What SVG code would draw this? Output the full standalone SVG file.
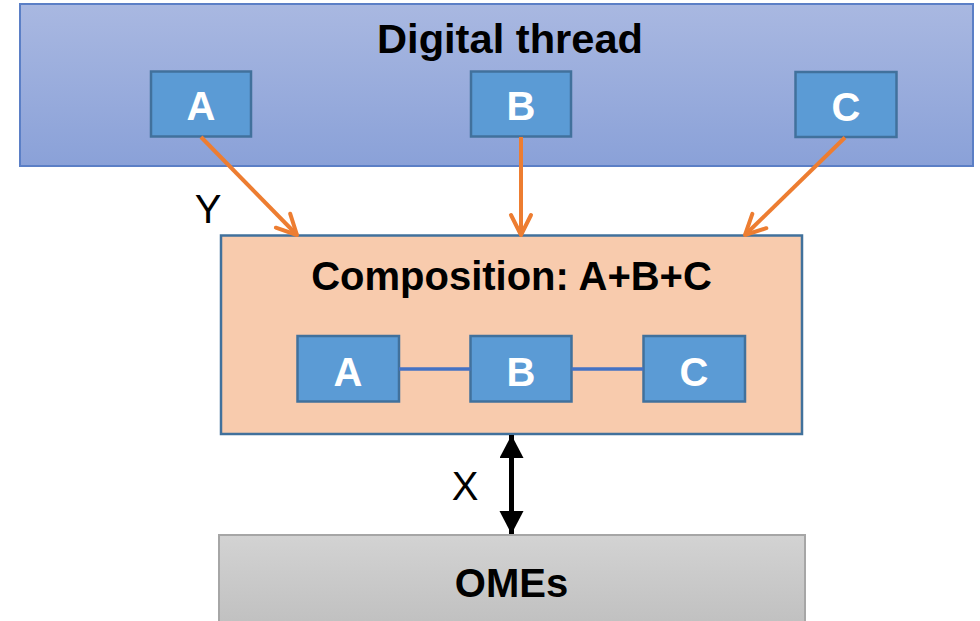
<svg xmlns="http://www.w3.org/2000/svg" width="980" height="621" viewBox="0 0 980 621">
  <defs>
    <linearGradient id="gTop" x1="0" y1="0" x2="0" y2="1">
      <stop offset="0" stop-color="#A9B8E1"/>
      <stop offset="1" stop-color="#8AA1D8"/>
    </linearGradient>
    <linearGradient id="gGray" x1="0" y1="0" x2="0" y2="1">
      <stop offset="0" stop-color="#D3D3D3"/>
      <stop offset="1" stop-color="#BEBEBE"/>
    </linearGradient>
    <marker id="oa" markerUnits="userSpaceOnUse" markerWidth="26" markerHeight="26" viewBox="0 0 26 26" refX="23" refY="13" orient="auto">
      <path d="M3,3 L23,13 L3,23" fill="none" stroke="#ED7D31" stroke-width="4" stroke-linecap="round" stroke-linejoin="round"/>
    </marker>
    <marker id="ba" markerUnits="userSpaceOnUse" markerWidth="24" markerHeight="26" viewBox="0 0 24 26" refX="23" refY="12" orient="auto-start-reverse">
      <path d="M0,0 L23,12 L0,24 Z" fill="#000"/>
    </marker>
  </defs>
  <style>
    .b { font-family: "Liberation Sans", Arial, sans-serif; font-weight: bold; font-size: 40px; text-anchor: middle; }
    .w { fill: #FFFFFF; }
    .k { fill: #000000; }
    .r { font-family: "Liberation Sans", Arial, sans-serif; font-size: 40px; text-anchor: middle; fill: #000; }
    .box { fill: #5B9BD5; stroke: #41719C; stroke-width: 2.5; }
    .oline { stroke: #ED7D31; stroke-width: 4; }
  </style>
  <rect width="980" height="621" fill="#FFFFFF"/>

  <g id="digital-thread">
    <rect x="20" y="4" width="953" height="162" fill="url(#gTop)" stroke="#5B7FC6" stroke-width="2"/>
    <text class="b k" x="510" y="53" textLength="266" lengthAdjust="spacingAndGlyphs">Digital thread</text>
  </g>
  <g id="dt-A">
    <rect class="box" x="151" y="71.5" width="100" height="65"/>
    <text class="b w" x="201" y="120">A</text>
  </g>
  <g id="dt-B">
    <rect class="box" x="471" y="71.5" width="100" height="65"/>
    <text class="b w" x="521" y="120">B</text>
  </g>
  <g id="dt-C">
    <rect class="box" x="795.5" y="72" width="101" height="65"/>
    <text class="b w" x="846" y="120.5">C</text>
  </g>

  <g id="composition">
    <rect x="221" y="235.5" width="581" height="198.5" fill="#F8CBAD" stroke="#41719C" stroke-width="2.5"/>
    <text class="b k" x="511.5" y="290">Composition: A+B+C</text>
  </g>
  <g id="comp-A">
    <rect class="box" x="297.5" y="336" width="101.5" height="65.5"/>
    <text class="b w" x="348" y="386">A</text>
  </g>
  <g id="comp-B">
    <rect class="box" x="470.5" y="336" width="101" height="65.5"/>
    <text class="b w" x="521" y="386">B</text>
  </g>
  <g id="comp-C">
    <rect class="box" x="643.5" y="336" width="101.5" height="65.5"/>
    <text class="b w" x="694" y="386">C</text>
  </g>

  <g id="omes">
    <rect x="219" y="535" width="586" height="100" fill="url(#gGray)" stroke="#A6A6A6" stroke-width="2"/>
    <text class="b k" x="511.5" y="597">OMEs</text>
  </g>

  <g id="connectors">
    <line class="oline" x1="201" y1="137" x2="297" y2="235" marker-end="url(#oa)"/>
    <line class="oline" x1="521" y1="137" x2="521" y2="235" marker-end="url(#oa)"/>
    <line class="oline" x1="845" y1="137.5" x2="745" y2="235" marker-end="url(#oa)"/>
    <line x1="399" y1="369" x2="470.5" y2="369" stroke="#4472C4" stroke-width="3.5"/>
    <line x1="571.5" y1="369" x2="643.5" y2="369" stroke="#4472C4" stroke-width="3.5"/>
    <line x1="511.5" y1="435" x2="511.5" y2="534" stroke="#000" stroke-width="5" marker-start="url(#ba)" marker-end="url(#ba)"/>
    <text class="r" x="208" y="223">Y</text>
    <text class="r" x="465" y="500">X</text>
  </g>
</svg>
